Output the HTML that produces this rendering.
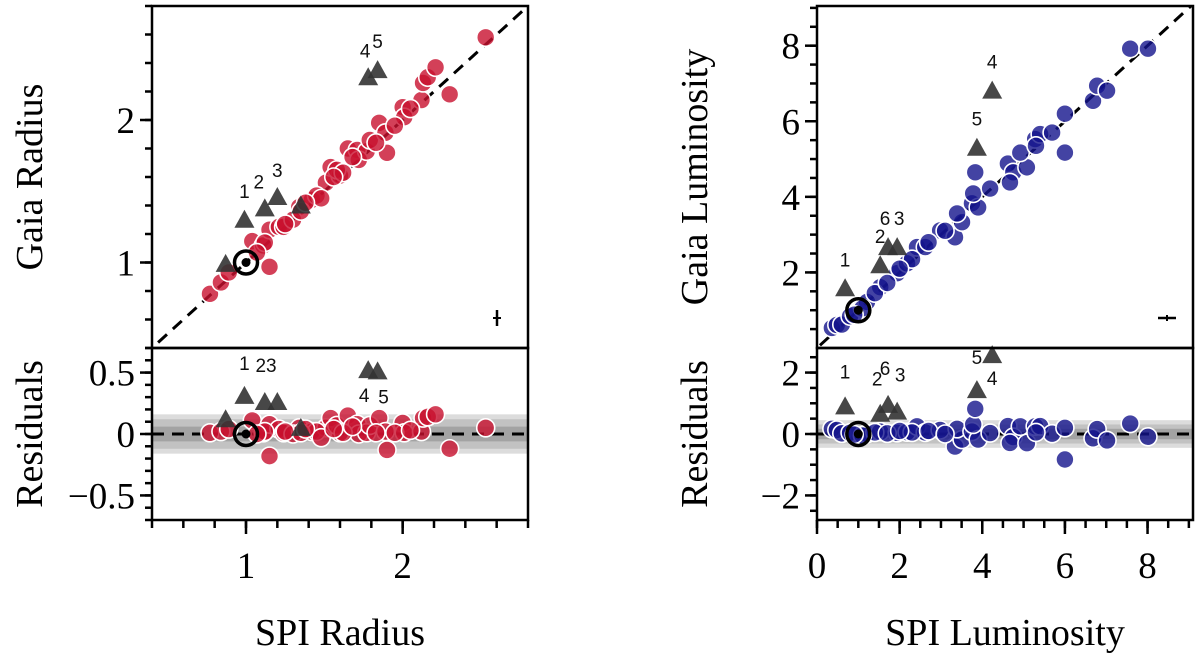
<!DOCTYPE html>
<html><head><meta charset="utf-8"><style>
html,body{margin:0;padding:0;background:#fff;}
svg{display:block;font-family:"Liberation Serif",serif;}
.lbl{font-family:"Liberation Sans",sans-serif;font-size:19px;fill:#111;}
</style></head><body>
<svg id="chart" width="1200" height="658" viewBox="0 0 1200 658" xmlns="http://www.w3.org/2000/svg"></svg>
<script>
// ---- Left: radius data ----
const radSpi  = [0.77,0.84,0.89,1.15,1.04,1.11,1.15,1.21,1.24,1.34,1.42,1.51,1.54,1.60,1.58,1.65,1.71,1.72,1.77,1.90,1.79,1.85,1.89,2.00,2.01,2.12,2.13,2.16,2.21,2.30,2.53,1.30,1.45,1.62,1.83,1.95,2.05,1.35,1.12,1.07,1.25,1.48,1.68,1.38,1.56];
const radGaia = [0.78,0.86,0.93,0.97,1.15,1.12,1.23,1.25,1.25,1.39,1.44,1.56,1.67,1.61,1.65,1.80,1.79,1.72,1.78,1.77,1.86,1.98,1.91,2.09,2.02,2.14,2.26,2.30,2.37,2.18,2.58,1.30,1.47,1.63,1.84,1.96,2.08,1.36,1.14,1.07,1.27,1.45,1.74,1.42,1.60];
const radTriSpi  = [0.99,1.12,1.20,1.35,0.87,1.78,1.84];
const radTriGaia = [1.30,1.38,1.46,1.40,0.99,2.30,2.35];
const radTriLbl  = ["1","2","3","","","4","5"];
// ---- Right: luminosity data ----
const lumSpi  = [0.36,0.48,1.21,1.53,1.94,2.18,2.42,2.62,2.98,3.34,3.51,3.39,3.75,3.90,3.78,3.83,4.19,4.62,4.75,4.67,5.08,4.92,5.28,5.40,5.69,6.00,6.00,6.68,6.78,7.02,7.58,8.01,0.60,0.80,1.40,1.70,2.30,2.70,3.10,1.10,0.90,2.00,5.30];
const lumGaia = [0.53,0.61,1.22,1.61,1.98,2.24,2.67,2.67,3.11,2.93,3.33,3.56,3.83,3.72,4.09,4.65,4.22,4.88,4.65,4.38,4.78,5.17,5.53,5.66,5.70,6.20,5.17,6.54,6.94,6.81,7.92,7.92,0.62,0.84,1.45,1.72,2.35,2.80,3.10,1.05,0.88,2.10,5.35];
const lumTriSpi  = [0.68,1.53,1.72,1.94,3.87,4.24];
const lumTriGaia = [1.58,2.19,2.67,2.67,5.30,6.81];
const lumTriLbl  = ["1","2","6","3","5","4"];

const NS="http://www.w3.org/2000/svg";
const svg=document.getElementById('chart');
function mk(tag,attrs,parent){const e=document.createElementNS(NS,tag);for(const k in attrs)e.setAttribute(k,attrs[k]);(parent||svg).appendChild(e);return e;}
function lin(d0,d1,r0,r1){return v=>r0+(v-d0)*(r1-r0)/(d1-d0);}

function panel(cfg){
  const g=mk('g',{});
  
  
  const X=lin(cfg.xr[0],cfg.xr[1],cfg.L,cfg.R);
  const Y=lin(cfg.yr[0],cfg.yr[1],cfg.B,cfg.T);
  const Yr=lin(-cfg.rr,cfg.rr,cfg.B2,cfg.B);
  const clipT='clipT'+cfg.id, clipB='clipB'+cfg.id;
  const defs=mk('defs',{},g);
  const c1=mk('clipPath',{id:clipT},defs);mk('rect',{x:cfg.L,y:cfg.T,width:cfg.R-cfg.L,height:cfg.B-cfg.T},c1);
  const c2=mk('clipPath',{id:clipB},defs);mk('rect',{x:cfg.L,y:cfg.B,width:cfg.R-cfg.L,height:cfg.B2-cfg.B},c2);
  const gb=mk('g',{'clip-path':`url(#${clipB})`},g);
  cfg.bands.forEach((b,i)=>{
    const r=mk('rect',{x:cfg.L,y:Yr(b),width:cfg.R-cfg.L,height:Yr(-b)-Yr(b),fill:cfg.bandCol[i]},gb);
    
    
  });
  const zl=mk('line',{x1:cfg.L,x2:cfg.R,y1:Yr(0),y2:Yr(0),stroke:'#000','stroke-width':3,'stroke-dasharray':'12,8'},gb);
  
  
  const gt=mk('g',{'clip-path':`url(#${clipT})`},g);
  const one=mk('line',{x1:X(cfg.xr[0]-1),y1:Y(cfg.xr[0]-1),x2:X(cfg.xr[1]+1),y2:Y(cfg.xr[1]+1),stroke:'#000','stroke-width':3,'stroke-dasharray':'12,8'},gt);
  
  
  const sx=cfg.sx, sy=cfg.sy;
  for(let i=0;i<sx.length;i++){
    const c=mk('circle',{cx:X(sx[i]),cy:Y(sy[i]),r:9,fill:cfg.col,'fill-opacity':0.8,stroke:'#fff','stroke-width':1.6},gt);
    
    
    const c2=mk('circle',{cx:X(sx[i]),cy:Yr(sy[i]-sx[i]),r:9,fill:cfg.col,'fill-opacity':0.8,stroke:'#fff','stroke-width':1.6},gb);
    
    
  }
  const tx=cfg.tx, ty=cfg.ty;
  function tri(cx,cy,par,nm){
    const s=10;
    const p=mk('polygon',{points:`${cx},${cy-s} ${cx-s},${cy+8} ${cx+s},${cy+8}`,fill:'#333','fill-opacity':0.9},par);
    
    
  }
  for(let i=0;i<tx.length;i++){
    const px=X(tx[i]), py=Y(ty[i]), ry=Yr(ty[i]-tx[i]);
    tri(px,py,g,'outlier-triangle');
    tri(px,ry,g,'outlier-residual-triangle');
    if(cfg.tl[i]){
      const o=cfg.lo[i];
      const t=mk('text',{x:px+o[0],y:py-16+o[1],'text-anchor':'middle',class:'lbl'},g);
      t.textContent=cfg.tl[i];
      
      
      const t2=mk('text',{x:px+o[2],y:ry-16+o[3],'text-anchor':'middle',class:'lbl'},g);
      t2.textContent=cfg.tl[i];
      
      
    }
  }
  const sxp=X(1), syp=Y(1), syr=Yr(0);
  [[syp,'sun-marker'],[syr,'sun-residual-marker']].forEach(([yy,nm])=>{
    const s=mk('circle',{cx:sxp,cy:yy,r:11.5,fill:'none',stroke:'#000','stroke-width':3.5},g);
    
    
    mk('circle',{cx:sxp,cy:yy,r:4.5,fill:'#000'},g);
  });
  const eb=mk('g',{},g);
  
  
  cfg.err(eb);
  const f1=mk('rect',{x:cfg.L,y:cfg.T,width:cfg.R-cfg.L,height:cfg.B-cfg.T,fill:'none',stroke:'#000','stroke-width':2.5},g);
  
  
  const f2=mk('rect',{x:cfg.L,y:cfg.B,width:cfg.R-cfg.L,height:cfg.B2-cfg.B,fill:'none',stroke:'#000','stroke-width':2.5},g);
  
  
  const tk=mk('g',{stroke:'#000','stroke-width':2.5},g);
  cfg.yMinor.forEach(v=>mk('line',{x1:cfg.L-7,x2:cfg.L,y1:Y(v),y2:Y(v)},tk));
  cfg.yMajor.forEach(v=>mk('line',{x1:cfg.L-12,x2:cfg.L,y1:Y(v),y2:Y(v)},tk));
  cfg.rMinor.forEach(v=>mk('line',{x1:cfg.L-7,x2:cfg.L,y1:Yr(v),y2:Yr(v)},tk));
  cfg.rMajor.forEach(v=>mk('line',{x1:cfg.L-12,x2:cfg.L,y1:Yr(v),y2:Yr(v)},tk));
  cfg.xMinor.forEach(v=>mk('line',{x1:X(v),x2:X(v),y1:cfg.B2,y2:cfg.B2+8},tk));
  cfg.xMajor.forEach(v=>mk('line',{x1:X(v),x2:X(v),y1:cfg.B2,y2:cfg.B2+14},tk));
  const fs=37;
  cfg.yMajor.forEach(v=>{const t=mk('text',{x:cfg.L-17,y:Y(v)+13,'text-anchor':'end','font-size':fs},g);t.textContent=String(v);
    });
  cfg.rMajor.forEach((v,i)=>{const t=mk('text',{x:cfg.L-17,y:Yr(v)+13,'text-anchor':'end','font-size':fs},g);t.textContent=cfg.rLbl[i];
    });
  cfg.xMajor.forEach(v=>{const t=mk('text',{x:X(v),y:cfg.B2+58,'text-anchor':'middle','font-size':fs},g);t.textContent=String(v);
    });
  const xt=mk('text',{x:(cfg.L+cfg.R)/2,y:645,'text-anchor':'middle','font-size':38},g);xt.textContent=cfg.xTitle;
  
  const yt=mk('text',{x:0,y:0,'text-anchor':'middle','font-size':38,transform:`translate(${cfg.titleX},${(cfg.T+cfg.B)/2}) rotate(-90)`},g);yt.textContent=cfg.yTitle;
  
  const rt=mk('text',{x:0,y:0,'text-anchor':'middle','font-size':38,transform:`translate(${cfg.titleX},${(cfg.B+cfg.B2)/2}) rotate(-90)`},g);rt.textContent='Residuals';
  
}
function rng(a,b,s){const o=[];for(let v=a;v<=b+1e-9;v+=s)o.push(Math.round(v*1000)/1000);return o;}

panel({id:'L',name:'radius-panel',L:152,R:528,T:6,B:348,B2:520,xr:[0.4,2.8],yr:[0.4,2.8],rr:0.7,
  sx:radSpi,sy:radGaia,tx:radTriSpi,ty:radTriGaia,tl:radTriLbl,col:'#c8102e',
  lo:[[0,-6,0,-10],[-6,-4,-4,-14],[0,-4,-6,-14],[0,0,0,0],[0,0,0,0],[-3,-4,-4,48],[0,-6,6,48]],
  bands:[0.16,0.12,0.06],bandCol:['#dcdcdc','#c2c2c2','#a3a3a3'],
  yMajor:[1,2],yMinor:rng(0.4,2.8,0.2),rMajor:[0.5,0,-0.5],rLbl:['0.5','0','\u22120.5'],rMinor:rng(-0.7,0.7,0.1),
  xMajor:[1,2],xMinor:rng(0.4,2.8,0.2),xTitle:'SPI Radius',yTitle:'Gaia Radius',titleX:42,
  err(eb){mk('line',{x1:497,x2:497,y1:310,y2:326,stroke:'#000','stroke-width':2.5},eb);mk('line',{x1:493,x2:501,y1:318,y2:318,stroke:'#000','stroke-width':2},eb);}
});
panel({id:'R',name:'luminosity-panel',L:817,R:1193,T:6,B:348,B2:520,xr:[0,9.1],yr:[0,9.05],rr:2.8,
  sx:lumSpi,sy:lumGaia,tx:lumTriSpi,ty:lumTriGaia,tl:lumTriLbl,col:'#14148c',
  lo:[[0,-6,0,-12],[0,-6,-3,-12],[-3,-6,-3,-14],[2,-6,3,-14],[0,-6,0,-10],[0,-6,0,46]],
  bands:[0.45,0.31,0.17],bandCol:['#dcdcdc','#c2c2c2','#a3a3a3'],
  yMajor:[2,4,6,8],yMinor:rng(0.5,9,0.5),rMajor:[2,0,-2],rLbl:['2','0','\u22122'],rMinor:rng(-2.5,2.5,0.5),
  xMajor:[0,2,4,6,8],xMinor:rng(0,9,0.5),xTitle:'SPI Luminosity',yTitle:'Gaia Luminosity',titleX:707,
  err(eb){mk('line',{x1:1158,x2:1176,y1:318,y2:318,stroke:'#000','stroke-width':2.5},eb);mk('line',{x1:1167,x2:1167,y1:315,y2:321,stroke:'#000','stroke-width':2},eb);}
});
</script>
</body></html>
